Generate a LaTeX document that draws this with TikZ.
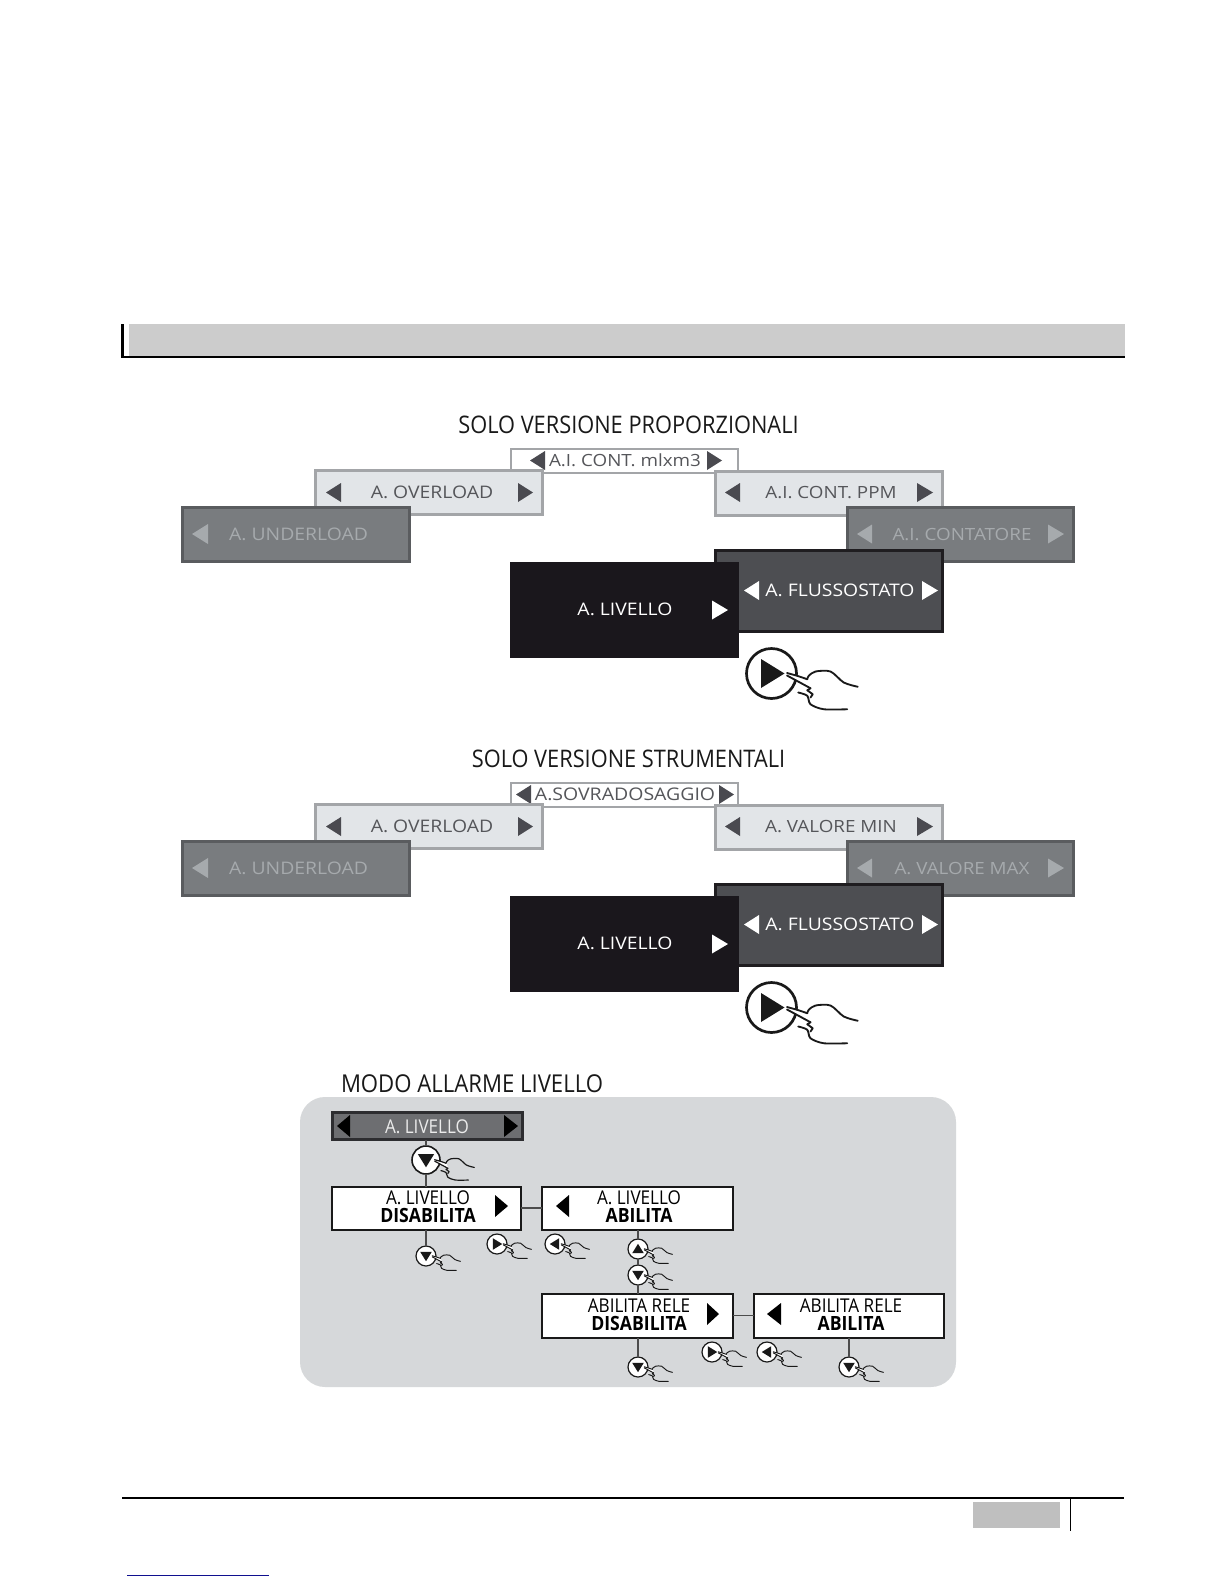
\documentclass[tikz,border=0pt]{standalone}
\usepackage{fontspec}
\setmainfont{Open Sans}
\newfontfamily\widef[FakeStretch=1.12]{Open Sans}
\newfontfamily\narrowf[FakeStretch=0.9]{Open Sans}
\definecolor{ulfill}{HTML}{797C7F}\definecolor{uldraw}{HTML}{5A5C5F}\definecolor{ultext}{HTML}{A6AAAD}
\definecolor{olfill}{HTML}{E2E5E8}\definecolor{oldraw}{HTML}{A3A5A8}\definecolor{oltext}{HTML}{55565A}
\definecolor{tridark}{HTML}{4A4A50}\definecolor{blk}{HTML}{1A171C}
\definecolor{flfill}{HTML}{4D4E52}\definecolor{fldraw}{HTML}{1F1D20}
\definecolor{panel}{HTML}{D6D8DA}\definecolor{topfill}{HTML}{6D6E71}\definecolor{topdraw}{HTML}{2D2D30}
\definecolor{hdr}{HTML}{CCCCCC}\definecolor{ftr}{HTML}{BFBFBF}\definecolor{lnk}{HTML}{10108F}
\tikzset{
 menubox/.style={rectangle,inner sep=0pt,outer sep=0pt},
 ulbox/.style={menubox,draw=uldraw,fill=ulfill,line width=3pt,text=ultext},
 olbox/.style={menubox,draw=oldraw,fill=olfill,line width=3pt,text=oltext},
 topbox/.style={menubox,draw=oldraw,fill=white,line width=2pt,text=oltext},
 blkbox/.style={menubox,fill=blk,text=white},
 flbox/.style={menubox,draw=fldraw,fill=flfill,line width=3pt,text=white},
 lvlbox/.style={menubox,draw=topdraw,fill=topfill,line width=3pt,text=white!90!black},
 setbox/.style={menubox,draw=black!90,fill=white,line width=2pt,text=black,align=center},
 lab/.style={inner sep=0pt,outer sep=0pt,font=\widef\fontsize{17.3}{18}\selectfont},
 ttl/.style={inner sep=0pt,outer sep=0pt,font=\narrowf\fontsize{24.2}{26}\selectfont,text=black!90},
 conn/.style={draw=black!70,line width=1.6pt},
 knob/.style={circle,draw=black!90,fill=white,inner sep=0pt,outer sep=0pt},
}
\newcommand{\trl}[5]{\fill[#1] ({#3},{#4-#5}) -- ({#3},{#4+#5}) -- ({#2},#4) -- cycle;}
\newcommand{\trr}[5]{\fill[#1] ({#2},{#4-#5}) -- ({#2},{#4+#5}) -- ({#3},#4) -- cycle;}
% hand drawn around a knob: centre x,y, radius r
\newcommand{\hand}[4]{%
 \begin{scope}[shift={(#1,#2)},x=#3pt,y=-#3pt,line width=#4pt,draw=black!90,line cap=round,line join=round]
  \fill[white] (.65,0) -- (1.45,.22) -- (1.6,.6) -- (.65,.1) -- cycle;
  \draw plot[smooth] coordinates {(.62,-.02) (1.05,.1) (1.43,.23)};
  \draw plot[smooth] coordinates {(1.43,.23) (1.49,.09) (1.76,-.08) (2.36,-.08) (2.89,.36) (3.45,.53)};
  \draw plot[smooth] coordinates {(.62,.08) (1.1,.34) (1.56,.59)};
  \draw (1.56,.59) -- (1.43,.67) -- (1.65,.83) -- (1.56,.96);
  \draw plot[smooth] coordinates {(1.07,.76) (1.43,.89) (1.56,1.23) (2.09,1.43) (3.03,1.43)};
 \end{scope}}
% knob: name,x,y,r,direction d/u/l/r
\newcommand{\knb}[5]{%
 \node[knob,minimum size=#4*2pt,line width=#4*0.1pt+.2pt] (#1) at (#2,#3) {};
 \hand{#2}{#3}{#4}{#4*0.06+.35}
 \ifx#5d\fill[black!90] ({#2-#4*.58},{#3-#4*.42}) -- ({#2+#4*.58},{#3-#4*.42}) -- (#2,{#3+#4*.52}) -- cycle;\fi
 \ifx#5u\fill[black!90] ({#2-#4*.58},{#3+#4*.42}) -- ({#2+#4*.58},{#3+#4*.42}) -- (#2,{#3-#4*.52}) -- cycle;\fi
 \ifx#5r\fill[black!90] ({#2-#4*.42},{#3-#4*.58}) -- ({#2-#4*.42},{#3+#4*.58}) -- ({#2+#4*.52},#3) -- cycle;\fi
 \ifx#5l\fill[black!90] ({#2+#4*.42},{#3-#4*.58}) -- ({#2+#4*.42},{#3+#4*.58}) -- ({#2-#4*.52},#3) -- cycle;\fi
}
% one staircase of menu boxes
% #1 prefix, #2 title, #3 top label, #4 top left tip, #5 top right tip, #6 right light label, #7 right grey label
\newcommand{\stair}[7]{%
 \node[ttl] (#1t) at (628.5,425) {#2};
 \node[topbox,minimum width=227pt,minimum height=24pt] (#1a) at (624.5,461) {};
 \node[lab,text=oltext] (#1al) at (625,460.5) {#3};
 \trl{tridark}{#4}{#4+15}{460.5}{9.5}
 \trr{tridark}{#5}{#5+15}{460.5}{9.5}
 \node[olbox,minimum width=227pt,minimum height=44pt] (#1b) at (429,492.5) {};
 \node[lab,text=oltext] (#1bl) at (432,492.5) {A. OVERLOAD};
 \trl{tridark}{326}{341}{492.5}{9.5}
 \trr{tridark}{518}{533}{492.5}{9.5}
 \node[olbox,minimum width=227pt,minimum height=44pt] (#1c) at (829,493) {};
 \node[lab,text=oltext,xscale=1] (#1cl) at (831,492.5) {#6};
 \trl{tridark}{725}{740}{492.5}{9.5}
 \trr{tridark}{917}{933}{492.5}{9.5}
 \node[ulbox,minimum width=227pt,minimum height=54.5pt] (#1d) at (296,534.5) {};
 \node[lab,text=ultext] (#1dl) at (298.5,534.5) {A. UNDERLOAD};
 \trl{ultext}{192}{208}{534}{10}
 \node[ulbox,minimum width=226.5pt,minimum height=54.5pt] (#1e) at (960.5,534.5) {};
 \node[lab,text=ultext] (#1el) at (962,534.5) {#7};
 \trl{ultext}{857}{872}{534}{9.5}
 \trr{ultext}{1048}{1064}{534}{9.5}
 \node[flbox,minimum width=227pt,minimum height=81.5pt] (#1f) at (829,591) {};
 \node[lab,text=white] (#1fl) at (840,590.5) {A. FLUSSOSTATO};
 \trl{white}{744}{759}{590.5}{9.5}
 \trr{white}{922}{938}{590.5}{9.5}
 \node[blkbox,minimum width=229pt,minimum height=96pt] (#1g) at (624.5,610) {};
 \node[lab,text=white] (#1gl) at (625,609.5) {A. LIVELLO};
 \trr{white}{712}{728}{610}{9.5}
 \knb{#1k}{771.5}{673.5}{25}{r}
}
\begin{document}
\begin{tikzpicture}[x=1pt,y=-1pt]
\useasboundingbox (0,0) rectangle (1224,1584);
\fill[white] (0,0) rectangle (1224,1584);
% header band
\fill[hdr] (129,324) rectangle (1125,356);
\fill[black] (121,324) rectangle (124,358);
\fill[black] (121,356) rectangle (1125,358);
% staircases
\stair{p}{SOLO VERSIONE PROPORZIONALI}{\fontsize{16.8}{18}\selectfont A.I. CONT. mlxm3}{530}{707}{\fontsize{16.8}{18}\selectfont A.I. CONT. PPM}{\fontsize{16.8}{18}\selectfont A.I. CONTATORE}
\begin{scope}[shift={(0,334)}]
\stair{s}{SOLO VERSIONE STRUMENTALI}{\fontsize{17.4}{18}\selectfont A.SOVRADOSAGGIO}{516}{719}{\fontsize{16.8}{18}\selectfont A. VALORE MIN}{\fontsize{16.8}{18}\selectfont A. VALORE MAX}
\end{scope}
% level alarm panel
\node[ttl,anchor=west,font=\narrowf\fontsize{24.6}{26}\selectfont] (mt) at (341,1083.5) {MODO ALLARME LIVELLO};
\fill[panel,rounded corners=25pt] (300,1097) rectangle (956,1387);
\tikzset{stl/.style={inner sep=0pt,outer sep=0pt,align=center,text=black,font=\narrowf\fontsize{19}{18}\selectfont}}
\node[lvlbox,minimum width=190pt,minimum height=27.5pt] (top) at (427,1126) {};
\node[stl,text=white!92!black] (topl) at (427,1126.5) {A. LIVELLO};
\node[setbox,minimum width=189pt,minimum height=43pt] (d1) at (426,1208) {};
\node[setbox,minimum width=191pt,minimum height=43pt] (e1) at (637,1208) {};
\node[setbox,minimum width=191pt,minimum height=44pt] (d2) at (637,1315.5) {};
\node[setbox,minimum width=190pt,minimum height=44pt] (e2) at (848.5,1315.5) {};
\knb{k1}{426}{1160}{14}{d}
\knb{k2}{426}{1256}{10}{d}
\knb{k3}{497}{1244}{10}{r}
\knb{k4}{555}{1244}{10}{l}
\knb{k5}{638}{1249}{10}{u}
\knb{k6}{638}{1275}{10}{d}
\knb{k7}{638}{1367}{10}{d}
\knb{k8}{712}{1352}{10}{r}
\knb{k9}{767}{1352}{10}{l}
\knb{k10}{849}{1367}{10}{d}
\draw[conn] (top.south -| k1.north) -- (k1.north);
\draw[conn] (k1.south) -- (d1.north -| k1.south);
\draw[conn] (d1.south -| k2.north) -- (k2.north);
\draw[conn] (d1.east) -- (e1.west);
\draw[conn] (e1.south -| k5.north) -- (k5.north);
\draw[conn] (k5.south) -- (k6.north);
\draw[conn] (k6.south) -- (d2.north -| k6.south);
\draw[conn] (d2.east) -- (e2.west);
\draw[conn] (d2.south -| k7.north) -- (k7.north);
\draw[conn] (e2.south -| k10.north) -- (k10.north);
\node[stl] (d1l) at (428,1207) {A. LIVELLO\\{\bfseries\fontsize{19.6}{18}\selectfont DISABILITA}};
\node[stl] (e1l) at (639,1207) {A. LIVELLO\\{\bfseries\fontsize{19.6}{18}\selectfont ABILITA}};
\node[stl] (d2l) at (639,1315) {ABILITA RELE\\{\bfseries\fontsize{19.6}{18}\selectfont DISABILITA}};
\node[stl] (e2l) at (851,1315) {ABILITA RELE\\{\bfseries\fontsize{19.6}{18}\selectfont ABILITA}};
\trl{black}{337}{350}{1126}{11}
\trr{black}{504}{518}{1126}{11}
\trr{black}{495}{508}{1206}{11}
\trl{black}{556}{569}{1206}{11}
\trr{black}{707}{719}{1314}{11}
\trl{black}{767}{781}{1314}{11}
% footer
\fill[black] (122,1497.2) rectangle (1124,1498.7);
\fill[ftr] (973,1502) rectangle (1060,1528);
\fill[black] (1069.6,1498) rectangle (1070.6,1531);
\fill[lnk] (127,1574.5) rectangle (269,1576);
\end{tikzpicture}
\end{document}
